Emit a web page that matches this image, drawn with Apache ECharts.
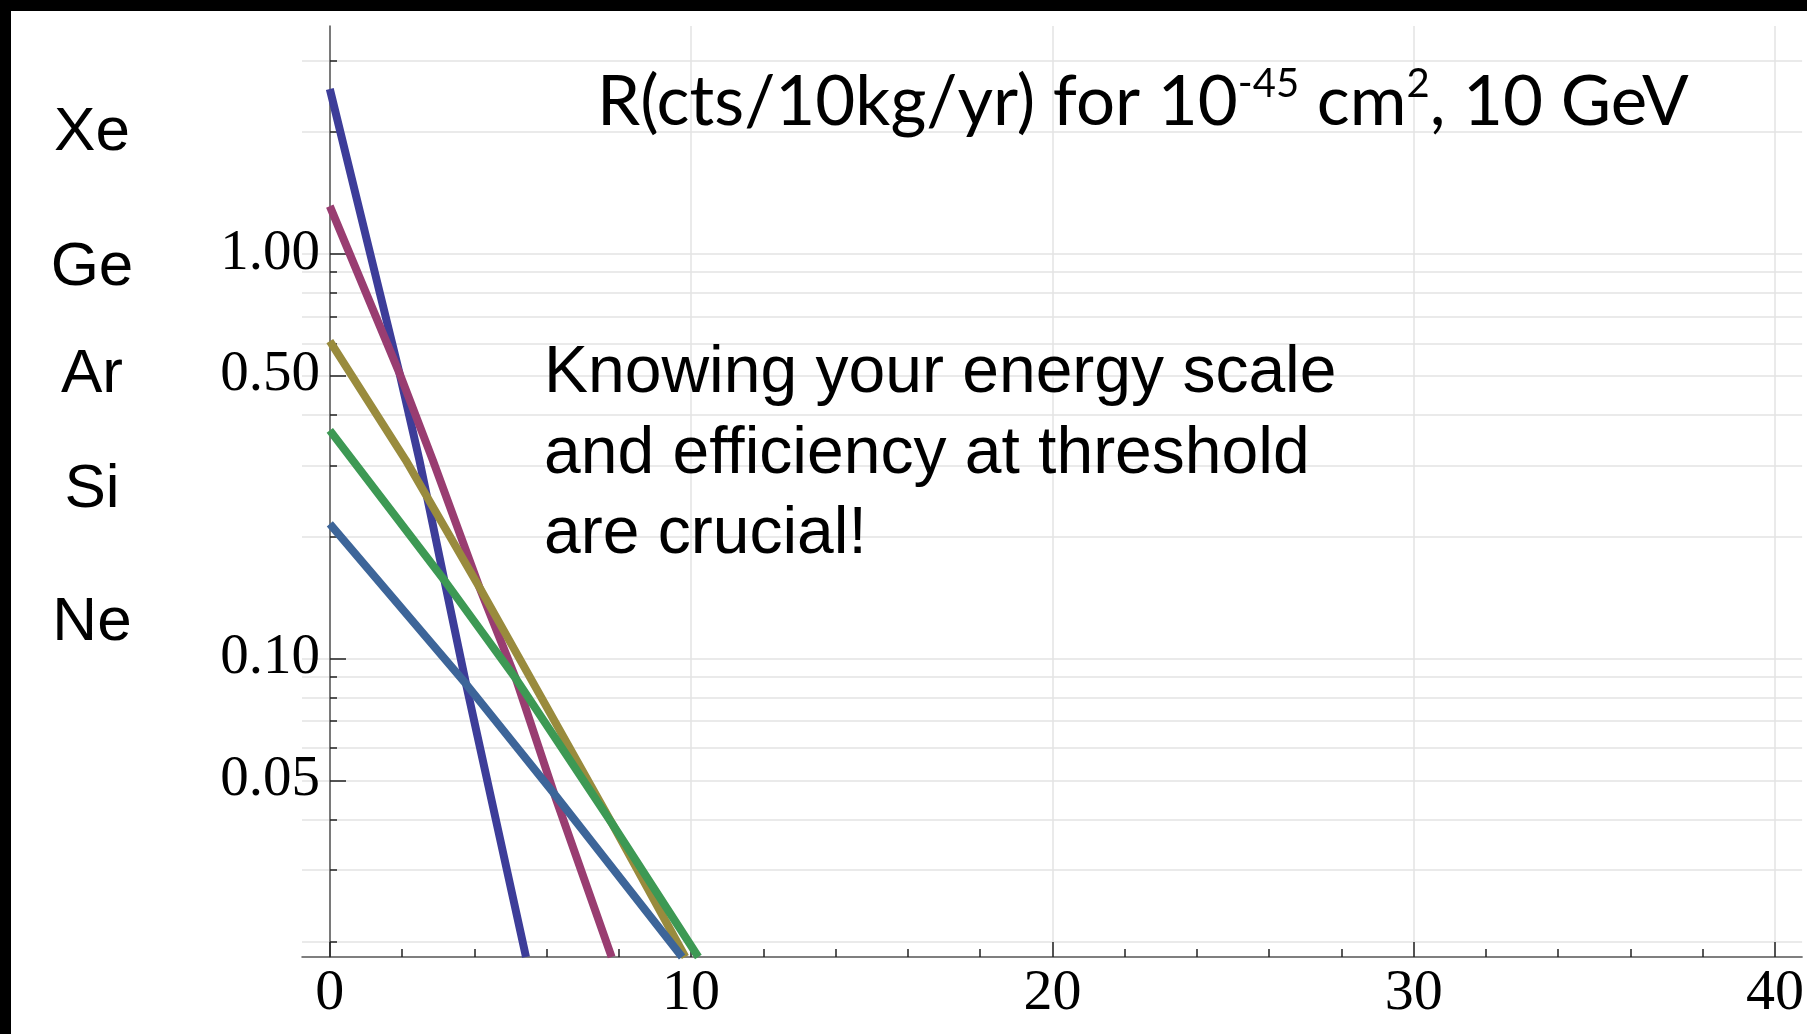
<!DOCTYPE html>
<html>
<head>
<meta charset="utf-8">
<script src="https://cdn.jsdelivr.net/npm/echarts@6/dist/echarts.min.js"></script>
<style>
html,body{margin:0;padding:0;background:#fff;}
#chart{width:1807px;height:1034px;}
</style>
</head>
<body>
<div id="chart"></div>
<script>
// Recoil-rate curves: [recoil energy, rate]
const xeData = [[0, 2.55], [1.93, 0.506], [2.48, 0.309], [3.17, 0.156], [3.77, 0.0865], [5.43, 0.0183]];
const geData = [[0, 1.31], [1.93, 0.506], [2.85, 0.309], [4.14, 0.150], [5.15, 0.0891], [6.21, 0.0463], [7.80, 0.0183]];
const arData = [[0, 0.608], [2.10, 0.309], [4.14, 0.150], [7.82, 0.0390], [9.84, 0.0183]];
const siData = [[0, 0.366], [3.17, 0.156], [5.15, 0.0891], [7.82, 0.0390], [10.2, 0.0183]];
const neData = [[0, 0.215], [3.77, 0.0865], [6.21, 0.0463], [9.75, 0.0183]];

const seriesNames = ['Xe', 'Ge', 'Ar', 'Si', 'Ne'];
const seriesColors = ['#3d3d99', '#993d71', '#998b3d', '#3d9954', '#3d6599'];

const xMajorTicks = [0, 10, 20, 30, 40];
const xMinorTicks = [2, 4, 6, 8, 12, 14, 16, 18, 22, 24, 26, 28, 32, 34, 36, 38];
const yMajorTicks = [0.05, 0.1, 0.5, 1];
const yMinorTicks = [0.02, 0.03, 0.04, 0.05, 0.06, 0.07, 0.08, 0.09,
  0.1, 0.2, 0.3, 0.4, 0.5, 0.6, 0.7, 0.8, 0.9, 1, 2, 3];

const titleParts = ['R(cts/10kg/yr) for 10', '-45', ' cm', '2', ', 10 GeV'];
const noteLines = ['Knowing your energy scale', 'and efficiency at threshold', 'are crucial!'];

const chart = echarts.init(document.getElementById('chart'), null, {renderer: 'canvas'});

const axisColor = '#555';
const tickColor = '#222';
const gridColor = '#e3e3e3';
const serif = '"Liberation Serif", "DejaVu Serif", serif';
const sans = '"Liberation Sans", Arial, sans-serif';
const yAxisOffset = -28; // y axis drawn at x = 0, grid starts a bit left of it

const xBase = {
  type: 'value', min: -0.77, max: 40.75,
  axisLine: {onZero: false, lineStyle: {color: axisColor, width: 1.5}},
  splitLine: {show: false}, axisLabel: {show: false}, axisTick: {show: false}
};
const yBase = {
  type: 'log', logBase: 10, min: 0.0183, max: 3.65,
  position: 'left', offset: yAxisOffset,
  axisLine: {show: false, onZero: false},
  splitLine: {show: false}, axisLabel: {show: false}, axisTick: {show: false}
};

const option = {
  backgroundColor: '#ffffff',
  animation: false,
  grid: {left: 302, right: 0, top: 26, bottom: 77, containLabel: false},
  xAxis: [
    Object.assign({}, xBase, {
      position: 'bottom',
      splitLine: {show: true, lineStyle: {color: gridColor, width: 1.5}},
      axisTick: {show: true, inside: true, length: 15, customValues: xMajorTicks,
        lineStyle: {color: tickColor, width: 1.5}},
      axisLabel: {show: true, customValues: xMajorTicks, margin: 8,
        fontFamily: serif, fontSize: 58, color: '#000'}
    }),
    Object.assign({}, xBase, {
      position: 'bottom',
      axisLine: {show: false, onZero: false},
      axisTick: {show: true, inside: true, length: 8, customValues: xMinorTicks,
        lineStyle: {color: tickColor, width: 1.5}}
    })
  ],
  yAxis: [
    Object.assign({}, yBase, {
      axisLine: {show: true, onZero: false, lineStyle: {color: axisColor, width: 1.5}},
      splitLine: {show: true, lineStyle: {color: gridColor, width: 1.5}},
      axisTick: {show: true, inside: true, length: 7, customValues: yMinorTicks,
        lineStyle: {color: tickColor, width: 1.5}}
    }),
    Object.assign({}, yBase, {
      axisTick: {show: true, inside: true, length: 16, customValues: yMajorTicks,
        lineStyle: {color: tickColor, width: 1.5}},
      axisLabel: {show: true, customValues: yMajorTicks, margin: 10,
        fontFamily: serif, fontSize: 57, color: '#000',
        formatter: v => Number(v).toFixed(2)}
    })
  ],
  series: [xeData, geData, arData, siData, neData].map((d, i) => ({
    name: seriesNames[i], type: 'line', data: d,
    xAxisIndex: 0, yAxisIndex: 0,
    showSymbol: false, symbol: 'none', smooth: false, clip: true,
    lineStyle: {color: seriesColors[i], width: 8},
    z: 3 + i
  })),
  graphic: [
    {type: 'rect', left: 0, top: 0, shape: {width: 1807, height: 11}, style: {fill: '#000'}, z: 100},
    {type: 'rect', left: 0, top: 0, shape: {width: 11, height: 1034}, style: {fill: '#000'}, z: 100},
    {type: 'text', x: 597, y: 103, z: 50,
      style: {
        text: '{a|' + titleParts[0] + '}{s|' + titleParts[1] + '}{a|' + titleParts[2] + '}{s|' + titleParts[3] + '}{a|' + titleParts[4] + '}',
        verticalAlign: 'middle', align: 'left',
        rich: {
          a: {fontFamily: 'Lato, "Open Sans", sans-serif', fontSize: 69, fill: '#000', lineHeight: 78},
          s: {fontFamily: 'Lato, "Open Sans", sans-serif', fontSize: 40, fill: '#000', verticalAlign: 'top', lineHeight: 78}
        }
      }}
  ].concat(seriesNames.map((n, i) => ({
    type: 'text', x: 92, y: [133, 268, 375, 490, 623][i], z: 50,
    style: {text: n, font: '62px ' + sans, fill: '#000', align: 'center', verticalAlign: 'middle'}
  }))).concat(noteLines.map((t, i) => ({
    type: 'text', x: 544, y: [374, 455, 535][i], z: 50,
    style: {text: t, font: '66px ' + sans, fill: '#000', align: 'left', verticalAlign: 'middle'}
  })))
};

chart.setOption(option);
</script>
</body>
</html>
